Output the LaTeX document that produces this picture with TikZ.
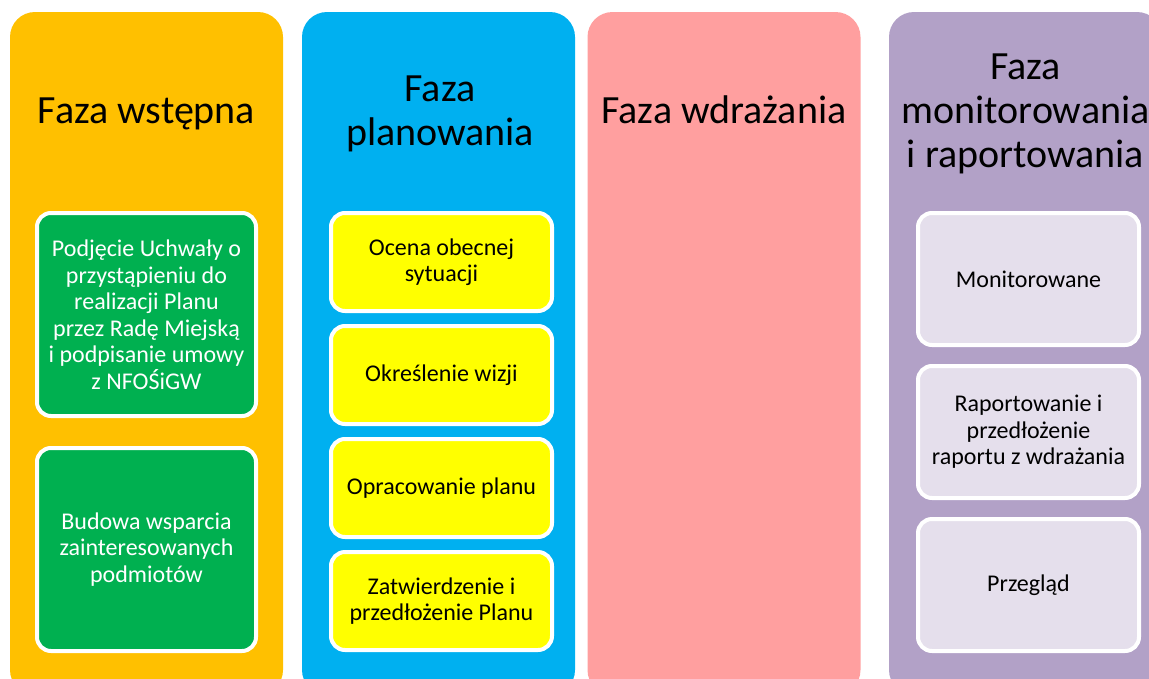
\documentclass[tikz,border=0pt]{standalone}
\usepackage{fontspec}
\setmainfont{Carlito}
\usetikzlibrary{positioning}
\definecolor{fazaorange}{HTML}{FFC000}
\definecolor{fazablue}{HTML}{00B0F0}
\definecolor{fazapink}{HTML}{FF9F9F}
\definecolor{fazapurple}{HTML}{B2A1C7}
\definecolor{krokgreen}{HTML}{00B050}
\definecolor{krokyellow}{HTML}{FFFF00}
\definecolor{kroklilac}{HTML}{E5DFEC}
\begin{document}
\begin{tikzpicture}[x=1pt,y=-1pt,
        phase/.style={shape=rectangle,rounded corners=25pt,minimum width=273pt,minimum height=683pt,inner sep=0},
        title/.style={align=center,anchor=base,font=\fontsize{40}{44}\selectfont},
        krok/.style={shape=rectangle,draw=white,line width=4pt,rounded corners=14pt,align=center,inner sep=0,
            font=\fontsize{24}{26.5}\selectfont},
        krokg/.style={krok,fill=krokgreen,text=white,minimum width=219pt,minimum height=203pt},
        kroky/.style={krok,fill=krokyellow,minimum width=221pt,minimum height=98pt},
        krokl/.style={krok,fill=kroklilac,minimum width=221pt,minimum height=132pt},
        ]
\useasboundingbox (0,0) rectangle (1149,678);
\clip (0,0) rectangle (1149,678);

% columns
\node [phase, fill=fazaorange] (F1) at (146.5,353.5) {};
\node [phase, fill=fazablue] (F2) at (438.5,353.5) {};
\node [phase, fill=fazapink] (F3) at (724,353.5) {};
\node [phase, fill=fazapurple] (F4) at (1025.5,353.5) {};

% titles (base = last line)
\node [title] (T1) at (146.5,123) {Faza wstępna};
\node [title] (T2) at (440,145) {Faza\\planowania};
\node [title] (T3) at (724,123) {Faza wdrażania};
\node [title] (T4) at (1025.5,167) {Faza\\monitorowania\\i raportowania};

% faza wstepna
\node [krokg] (G1) at (146.5,314.5) {Podjęcie Uchwały o\\przystąpieniu do\\realizacji Planu\\przez Radę Miejską\\i podpisanie umowy\\z NFOŚiGW};
\node [krokg] (G2) at (146.5,549.5) {Budowa wsparcia\\zainteresowanych\\podmiotów};

% faza planowania
\node [kroky] (Y1) at (441.5,262) {Ocena obecnej\\sytuacji};
\node [kroky] (Y2) at (441.5,375) {Określenie wizji};
\node [kroky] (Y3) at (441.5,488) {Opracowanie planu};
\node [kroky] (Y4) at (441.5,601) {Zatwierdzenie i\\przedłożenie Planu};

% faza monitorowania
\node [krokl] (L1) at (1028.5,279) {Monitorowane};
\node [krokl] (L2) at (1028.5,432) {Raportowanie i\\przedłożenie\\raportu z wdrażania};
\node [krokl] (L3) at (1028.5,585) {Przegląd};

\end{tikzpicture}
\end{document}
